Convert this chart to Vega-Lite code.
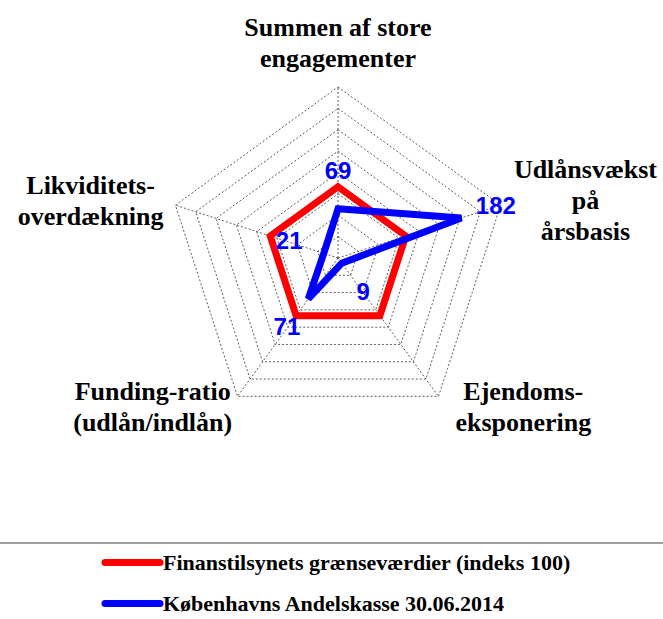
{
  "$schema": "https://vega.github.io/schema/vega-lite/v6.json",
  "width": 663,
  "height": 619,
  "padding": 0,
  "autosize": {"type": "none"},
  "background": "white",
  "config": {"view": {"stroke": null}},
  "datasets": {
    "series": [
      {"series": "Finanstilsynets grænseværdier (indeks 100)", "k": 0, "value": 100},
      {"series": "Finanstilsynets grænseværdier (indeks 100)", "k": 1, "value": 100},
      {"series": "Finanstilsynets grænseværdier (indeks 100)", "k": 2, "value": 100},
      {"series": "Finanstilsynets grænseværdier (indeks 100)", "k": 3, "value": 100},
      {"series": "Finanstilsynets grænseværdier (indeks 100)", "k": 4, "value": 100},
      {"series": "Københavns Andelskasse 30.06.2014", "k": 0, "value": 69},
      {"series": "Københavns Andelskasse 30.06.2014", "k": 1, "value": 182},
      {"series": "Københavns Andelskasse 30.06.2014", "k": 2, "value": 9},
      {"series": "Københavns Andelskasse 30.06.2014", "k": 3, "value": 71},
      {"series": "Københavns Andelskasse 30.06.2014", "k": 4, "value": 21}
    ],
    "axes": [
      {"k": 0, "label": ["Summen af store", "engagementer"]},
      {"k": 1, "label": ["Udlånsvækst", "på", "årsbasis"]},
      {"k": 2, "label": ["Ejendoms-", "eksponering"]},
      {"k": 3, "label": ["Funding-ratio", "(udlån/indlån)"]},
      {"k": 4, "label": ["Likviditets-", "overdækning"]}
    ],
    "rings": [
      {"level": 30, "k": [0, 1, 2, 3, 4]},
      {"level": 60, "k": [0, 1, 2, 3, 4]},
      {"level": 90, "k": [0, 1, 2, 3, 4]},
      {"level": 120, "k": [0, 1, 2, 3, 4]},
      {"level": 150, "k": [0, 1, 2, 3, 4]},
      {"level": 180, "k": [0, 1, 2, 3, 4]},
      {"level": 210, "k": [0, 1, 2, 3, 4]},
      {"level": 240, "k": [0, 1, 2, 3, 4]}
    ]
  },
  "layer": [
    {
      "data": {"name": "rings"},
      "transform": [
        {"flatten": ["k"]},
        {"calculate": "PI/2 - datum.k*2*PI/5", "as": "a"},
        {"calculate": "datum.level*cos(datum.a)", "as": "x"},
        {"calculate": "datum.level*sin(datum.a)", "as": "y"}
      ],
      "mark": {"type": "line", "interpolate": "linear-closed", "color": "#333333", "strokeWidth": 0.8, "strokeDash": [2, 2]},
      "encoding": {
        "x": {"field": "x", "type": "quantitative", "scale": {"domain": [-474.386, 456.14], "nice": false, "zero": false}, "axis": null},
        "y": {"field": "y", "type": "quantitative", "scale": {"domain": [-506.667, 362.105], "nice": false, "zero": false}, "axis": null},
        "detail": {"field": "level", "type": "nominal"},
        "order": {"field": "k", "type": "quantitative"}
      }
    },
    {
      "data": {"name": "axes"},
      "transform": [
        {"calculate": "PI/2 - datum.k*2*PI/5", "as": "a"},
        {"calculate": "0", "as": "o"},
        {"calculate": "240*cos(datum.a)", "as": "ex"},
        {"calculate": "240*sin(datum.a)", "as": "ey"}
      ],
      "mark": {"type": "rule", "color": "#333333", "strokeWidth": 0.8, "strokeDash": [2, 2]},
      "encoding": {
        "x": {"field": "o", "type": "quantitative"},
        "y": {"field": "o", "type": "quantitative"},
        "x2": {"field": "ex"},
        "y2": {"field": "ey"}
      }
    },
    {
      "data": {"name": "axes"},
      "transform": [
        {"filter": "datum.k == 0"},
        {"calculate": "-400", "as": "gy"}
      ],
      "mark": {"type": "rule", "color": "#808080", "strokeWidth": 1.5},
      "encoding": {
        "y": {"field": "gy", "type": "quantitative"}
      }
    },
    {
      "data": {"name": "series"},
      "transform": [
        {"calculate": "PI/2 - datum.k*2*PI/5", "as": "a"},
        {"calculate": "datum.value*cos(datum.a)", "as": "x"},
        {"calculate": "datum.value*sin(datum.a)", "as": "y"}
      ],
      "mark": {"type": "line", "interpolate": "linear-closed", "strokeWidth": 7, "strokeJoin": "miter", "strokeMiterLimit": 2},
      "encoding": {
        "x": {"field": "x", "type": "quantitative"},
        "y": {"field": "y", "type": "quantitative"},
        "order": {"field": "k", "type": "quantitative"},
        "color": {
          "field": "series",
          "type": "nominal",
          "sort": null,
          "scale": {"domain": ["Finanstilsynets grænseværdier (indeks 100)", "Københavns Andelskasse 30.06.2014"], "range": ["#ff0000", "#0000ff"]},
          "legend": {
            "orient": "none",
            "legendX": 118,
            "legendY": 548,
            "title": null,
            "padding": 0,
            "symbolType": "M-2.5,0H2.5",
            "symbolSize": 484,
            "symbolStrokeWidth": 7,
            "labelFont": "Liberation Serif",
            "labelFontWeight": "bold",
            "labelFontSize": 22,
            "labelColor": "#000000",
            "labelOffset": 16,
            "labelLimit": 0,
            "rowPadding": 12,
            "encode": {"symbols": {"update": {"strokeCap": {"value": "round"}}}}
          }
        }
      }
    },
    {
      "data": {"name": "series"},
      "transform": [
        {"filter": "datum.series == 'Københavns Andelskasse 30.06.2014'"},
        {"calculate": "PI/2 - datum.k*2*PI/5", "as": "a"},
        {"calculate": "(datum.value + 51)*cos(datum.a)", "as": "x"},
        {"calculate": "(datum.value + 51)*sin(datum.a)", "as": "y"}
      ],
      "mark": {"type": "text", "font": "Liberation Sans", "fontWeight": "bold", "fontSize": 24, "color": "#0000ff", "align": "center", "baseline": "middle"},
      "encoding": {
        "x": {"field": "x", "type": "quantitative"},
        "y": {"field": "y", "type": "quantitative"},
        "text": {"field": "value", "type": "quantitative"}
      }
    },
    {
      "data": {"name": "axes"},
      "transform": [
        {"calculate": "PI/2 - datum.k*2*PI/5", "as": "a"},
        {"calculate": "cos(datum.a)", "as": "cx"},
        {"calculate": "sin(datum.a)", "as": "sy"},
        {"calculate": "240*datum.cx + (datum.cx > 0.1 ? 119 : (datum.cx < -0.1 ? -119 : 0))", "as": "x"},
        {"calculate": "240*datum.sy + (datum.k == 0 ? 61.5 : (datum.sy < 0 ? -15.7 : 5.6)) + (length(datum.label) - 1)*21.75", "as": "y"}
      ],
      "mark": {"type": "text", "font": "Liberation Serif", "fontWeight": "bold", "fontSize": 26, "lineHeight": 31, "color": "#000000", "align": "center", "baseline": "middle"},
      "encoding": {
        "x": {"field": "x", "type": "quantitative"},
        "y": {"field": "y", "type": "quantitative"},
        "text": {"field": "label", "type": "nominal"}
      }
    }
  ]
}
